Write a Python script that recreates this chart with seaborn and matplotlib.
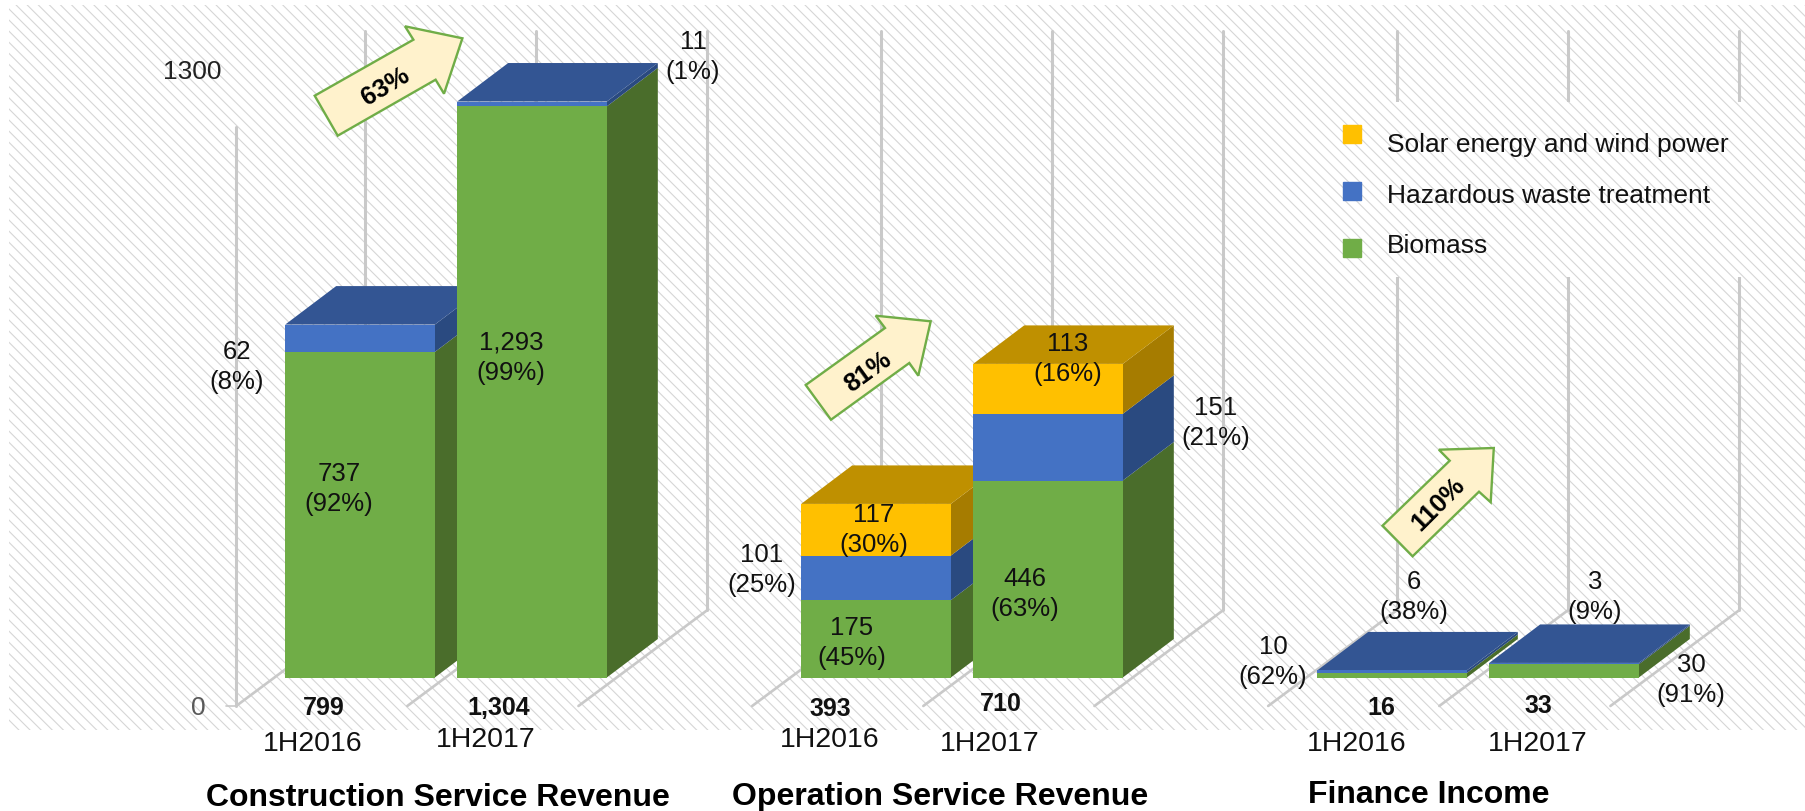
import matplotlib
matplotlib.use("Agg")
import matplotlib.pyplot as plt
from matplotlib.patches import Patch, Polygon, Rectangle
import pandas as pd
import seaborn as sns

W, H = 1806, 812

# Data
slots = ["c16", "c17", "gap1", "o16", "o17", "gap2", "f16", "f17"]
bar_slots = ["c16", "c17", "o16", "o17", "f16", "f17"]
biomass = [737, 1293, 175, 446, 10, 30]
hazardous = [62, 11, 101, 151, 6, 3]
solar = [0, 0, 117, 113, 0, 0]
biomass_pct = [92, 99, 45, 63, 62, 91]
hazardous_pct = [8, 1, 25, 21, 38, 9]
solar_pct = [0, 0, 30, 16, 0, 0]
totals = [799, 1304, 393, 710, 16, 33]
periods = ["1H2016", "1H2017", "1H2016", "1H2017", "1H2016", "1H2017"]
panels = ["Construction Service Revenue", "Operation Service Revenue", "Finance Income"]
growth = ["63%", "81%", "110%"]
series_names = ["Biomass", "Hazardous waste treatment", "Solar energy and wind power"]

# Colours: front, side, top
front = ["#70AD47", "#4472C4", "#FFC000"]
side = ["#4A6D2B", "#2A4A80", "#A67C00"]
top = ["#4E7A30", "#335593", "#BF9000"]
grid_col = "#C9C9C9"

# Scale of the picture
px_per_slot = 172
px_per_unit = 0.4417
x0_px = 360
base_px = 678.5
depth_x = 51 / px_per_slot
depth_y = 38.5 / px_per_unit
bar_width = 0.87


def fx(x, y):
    # reference pixel -> figure fraction
    return x / W, 1 - y / H


sns.set_theme(style="white")
plt.rcParams["font.family"] = ["Liberation Sans", "DejaVu Sans"]
plt.rcParams["hatch.linewidth"] = 0.8
hatch_col = "#D6D6D6"
hatch = "\\\\\\"

df = pd.DataFrame({"slot": bar_slots, "Biomass": biomass, "Hazardous": hazardous, "Solar": solar})
df["cum_biomass"] = df["Biomass"]
df["cum_hazardous"] = df["cum_biomass"] + df["Hazardous"]
df["cum_solar"] = df["cum_hazardous"] + df["Solar"]

fig = plt.figure(figsize=(W / 100, H / 100), dpi=100, facecolor="white")

# Hatched backdrop
fig.add_artist(Rectangle(fx(9, 731), (W - 9) / W, 725 / H, transform=fig.transFigure,
                         facecolor="white", edgecolor=hatch_col, hatch=hatch, linewidth=0, zorder=-1))

ax = fig.add_axes([0, 0, 1, 1])
ax.patch.set_visible(False)

# Stacked front faces, tallest first
for col, c in zip(["cum_solar", "cum_hazardous", "cum_biomass"], front[::-1]):
    sns.barplot(data=df, x="slot", y=col, order=slots, color=c, saturation=1,
                width=bar_width, linewidth=0, zorder=3, ax=ax)

ax.set_xlim(-x0_px / px_per_slot, (W - x0_px) / px_per_slot)
ax.set_ylim(-(H - base_px) / px_per_unit, base_px / px_per_unit)
ax.set_axis_off()

# Side and top faces worked out from the same values
for i, slot in enumerate(bar_slots):
    pos = slots.index(slot)
    left, right = pos - bar_width / 2, pos + bar_width / 2
    low = 0
    parts = [biomass[i], hazardous[i], solar[i]]
    last = max(k for k, v in enumerate(parts) if v > 0)
    for k, v in enumerate(parts):
        if v == 0:
            continue
        high = low + v
        ax.add_patch(Polygon([(right, low), (right + depth_x, low + depth_y),
                              (right + depth_x, high + depth_y), (right, high)],
                             facecolor=side[k], edgecolor="none", zorder=2))
        low = high
    ax.add_patch(Polygon([(left, low), (right, low), (right + depth_x, low + depth_y),
                          (left + depth_x, low + depth_y)],
                         facecolor=top[last], edgecolor="none", zorder=2))

# 3D grid: floor diagonals and back walls
floor_front = -64.5
floor_back = 152.8
wall_height = 1310
for first in [0, 3, 6]:
    for off in [-0.72, 0.275, 1.27]:
        xf = first + off
        xb = xf + 0.75
        ax.plot([xf, xb], [floor_front, floor_back], color=grid_col, lw=1.9, zorder=1, solid_capstyle="round")
        ax.plot([xb, xb], [floor_back, floor_back + wall_height], color=grid_col, lw=2.2, zorder=1)
# Front wall line of the first panel, with a small tick at zero
ax.plot([-0.72, -0.72], [floor_front, floor_front + wall_height], color=grid_col, lw=2.2, zorder=1)
ax.plot([-0.78, -0.72], [floor_front, floor_front], color=grid_col, lw=1.2, zorder=1)

# Hatched patch behind the legend hides the walls there
fig.add_artist(Rectangle(fx(1300, 278), 450 / W, 175 / H, transform=fig.transFigure,
                         facecolor="white", edgecolor=hatch_col, hatch=hatch, linewidth=0, zorder=1))

# Legend
handles = [Patch(color=front[2]), Patch(color=front[1]), Patch(color=front[0])]
leg = fig.legend(handles, series_names[::-1], loc="upper left", bbox_to_anchor=fx(1343, 125),
                 frameon=False, fontsize=19, handlelength=0.68, handleheight=0.68,
                 handletextpad=0.98, labelspacing=1.25, borderpad=0, borderaxespad=0)
leg.set_zorder(4)
# Text sits a little off the swatches in the original
for t, dy in zip(leg.get_texts(), [-8, -2, 5]):
    t.set_color("#111111")
    t.set_y(dy)

# Value labels
label_kw = dict(ha="center", va="center", fontsize=18.5, color="#111111", linespacing=1.35, zorder=6)
biomass_xy = [(339, 489), (511, 358), (852, 643), (1025, 594), (1273, 662), (1691, 680)]
hazardous_xy = [(237, 367), (693, 57), (762, 570), (1216, 423), (1414, 597), (1595, 597)]
solar_xy = [(None, None), (None, None), (874, 530), (1068, 359), (None, None), (None, None)]
for vals, pcts, spots in [(biomass, biomass_pct, biomass_xy), (hazardous, hazardous_pct, hazardous_xy),
                          (solar, solar_pct, solar_xy)]:
    for v, p, xy in zip(vals, pcts, spots):
        if v:
            fig.text(*fx(*xy), f"{v:,}\n({p}%)", **label_kw)

# Totals and period labels
total_xy = [(324, 708), (499, 708), (830, 709), (1001, 704), (1381, 708), (1538, 706)]
period_xy = [(313, 744), (486, 740), (830, 740), (990, 744), (1357, 744), (1538, 744)]
for t, xy in zip(totals, total_xy):
    fig.text(*fx(*xy), f"{t:,}", ha="center", va="center", fontsize=18, fontweight="bold", color="#111111", zorder=6)
for p, xy in zip(periods, period_xy):
    fig.text(*fx(*xy), p, ha="center", va="center", fontsize=20.5, color="#111111", zorder=6)

# Panel titles
title_xy = [(438, 798), (940, 797), (1429, 795)]
for name, xy in zip(panels, title_xy):
    fig.text(*fx(*xy), name, ha="center", va="center", fontsize=23, fontweight="bold", color="black", zorder=6)

# Axis end labels
fig.text(*fx(192, 72), "1300", ha="center", va="center", fontsize=19, color="#222222", zorder=6)
fig.text(*fx(198, 708), "0", ha="center", va="center", fontsize=19, color="#595959", zorder=6)

# Growth arrows
arrow_pts = [
    [(314.7, 96.7), (413.4, 40.7), (405, 27.3), (462.4, 39.3), (444, 94.7), (435.6, 80.7), (337.7, 136.7)],
    [(805.7, 386), (885, 329), (875.7, 316.7), (930.7, 322.3), (918.3, 376.7), (909.3, 364), (831, 420.7)],
    [(1382.5, 526.7), (1449.7, 461.7), (1438.9, 450.7), (1493.8, 449), (1490.7, 503.3), (1479, 492.7), (1412.6, 557.3)],
]
arrow_text = [((385, 87), 31), ((868, 372), 36), ((1438, 504), 45)]
for pts, label, (xy, rot) in zip(arrow_pts, growth, arrow_text):
    fig.add_artist(Polygon([fx(*p) for p in pts], closed=True, transform=fig.transFigure,
                           facecolor="#FFF2CC", edgecolor="#70AD47", linewidth=1.7, zorder=5))
    fig.text(*fx(*xy), label, ha="center", va="center", rotation=rot, rotation_mode="anchor",
             fontsize=18.5, fontweight="bold", color="black", zorder=6)

fig.savefig("out.png", dpi=100)
